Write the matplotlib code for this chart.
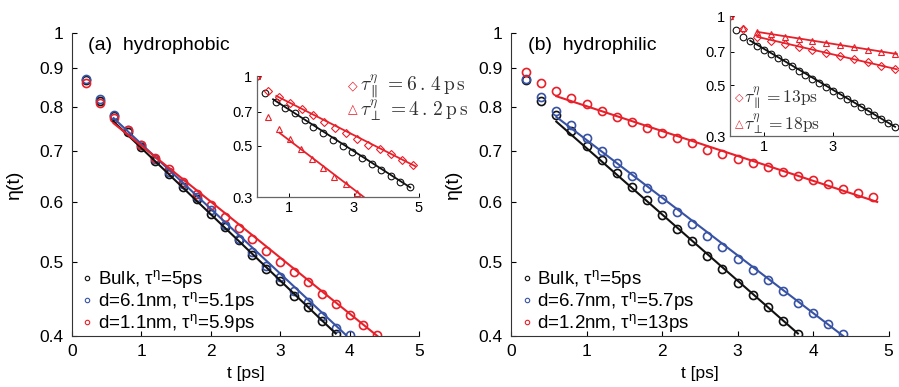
import matplotlib
matplotlib.use('Agg')
import matplotlib.pyplot as plt
from matplotlib.lines import Line2D
from matplotlib.ticker import NullLocator

plt.rcParams['font.family'] = ['Liberation Sans', 'DejaVu Sans']
plt.rcParams['mathtext.fontset'] = 'custom'
plt.rcParams['mathtext.rm'] = 'Liberation Sans'
plt.rcParams['mathtext.it'] = 'Liberation Sans:italic'

RED = '#e8202a'
BLUE = '#3852a4'
BLACK = '#111111'

# ---- panel (a): hydrophobic, main curves (t every 0.2 ps) ----
t_a = [0.2, 0.4, 0.6, 0.8, 1.0, 1.2, 1.4, 1.6, 1.8, 2.0, 2.2, 2.4, 2.6, 2.8, 3.0,
       3.2, 3.4, 3.6, 3.8, 4.0, 4.2, 4.4]
bulk_a = [0.868, 0.815, 0.777, 0.742, 0.708, 0.679, 0.652, 0.628, 0.605, 0.579, 0.556,
          0.534, 0.511, 0.490, 0.473, 0.452, 0.437, 0.419, 0.402]
d61_a = [0.870, 0.818, 0.780, 0.745, 0.712, 0.684, 0.656, 0.633, 0.609, 0.585, 0.559,
         0.537, 0.515, 0.495, 0.478, 0.459, 0.443, 0.425, 0.410, 0.401]
d11_a = [0.860, 0.810, 0.774, 0.745, 0.713, 0.686, 0.662, 0.637, 0.615, 0.595, 0.573,
         0.554, 0.536, 0.518, 0.500, 0.485, 0.471, 0.454, 0.440, 0.426, 0.413, 0.401]
# exponential fits (start/end of each line)
fit_bulk_a = ([0.6, 3.8], [0.765, 0.403])
fit_d61_a = ([0.6, 3.95], [0.773, 0.401])
fit_d11_a = ([0.6, 4.4], [0.761, 0.400])

# ---- panel (b): hydrophilic ----
t_b = [0.2, 0.4, 0.6, 0.8, 1.0, 1.2, 1.4, 1.6, 1.8, 2.0, 2.2, 2.4, 2.6, 2.8, 3.0,
       3.2, 3.4, 3.6, 3.8, 4.0, 4.2, 4.4, 4.6, 4.8]
bulk_b = [0.867, 0.814, 0.780, 0.743, 0.711, 0.682, 0.654, 0.628, 0.604, 0.576, 0.553,
          0.533, 0.510, 0.490, 0.470, 0.453, 0.437, 0.418, 0.403, 0.387, 0.372, 0.357,
          0.343, 0.330]
d67_b = [0.870, 0.824, 0.790, 0.757, 0.727, 0.699, 0.674, 0.649, 0.626, 0.606, 0.582,
         0.562, 0.542, 0.523, 0.505, 0.489, 0.474, 0.458, 0.442, 0.429, 0.415, 0.402]
d12_b = [0.889, 0.860, 0.839, 0.822, 0.807, 0.790, 0.776, 0.763, 0.751, 0.739, 0.727,
         0.716, 0.703, 0.693, 0.684, 0.675, 0.667, 0.657, 0.649, 0.641, 0.633, 0.624,
         0.616, 0.609]
fit_bulk_b = ([0.6, 3.8], [0.765, 0.403])
fit_d67_b = ([0.6, 4.4], [0.776, 0.400])
fit_d12_b = ([0.6, 4.85], [0.826, 0.600])

# ---- inset (a): parallel / perpendicular components ----
ia_bulk_t = [0, 0.26, 0.59, 0.89, 1.17, 1.48, 1.75, 2.06, 2.36, 2.67, 2.95, 3.25, 3.54,
             3.84, 4.15, 4.42, 4.73]
ia_bulk = [1.0, 0.842, 0.775, 0.730, 0.690, 0.646, 0.604, 0.565, 0.529, 0.498, 0.471,
           0.441, 0.415, 0.393, 0.370, 0.350, 0.332]
ia_par_t = [0, 0.34, 0.70, 1.04, 1.40, 1.73, 2.07, 2.41, 2.75, 3.10, 3.44, 3.79, 4.14,
            4.49, 4.83]
ia_par = [1.0, 0.861, 0.809, 0.762, 0.718, 0.678, 0.635, 0.598, 0.565, 0.534, 0.503,
          0.482, 0.459, 0.434, 0.411]
ia_perp_t = [0, 0.34, 0.70, 1.04, 1.37, 1.71, 2.04, 2.39, 2.75, 3.10]
ia_perp = [1.0, 0.667, 0.588, 0.532, 0.482, 0.437, 0.399, 0.367, 0.340, 0.311]
ia_fit_bulk = ([0.51, 4.73], [0.793, 0.330])
ia_fit_par = ([0.61, 4.88], [0.820, 0.408])
ia_fit_perp = ([0.70, 3.30], [0.569, 0.300])

# ---- inset (b) ----
ib_t = [0, 0.4, 0.8, 1.2, 1.6, 2.0, 2.4, 2.8, 3.2, 3.6, 4.0, 4.4, 4.8]
ib_par = [1.0, 0.875, 0.807, 0.782, 0.758, 0.734, 0.712, 0.690, 0.668, 0.648, 0.628,
          0.608, 0.589]
ib_perp = [1.0, 0.884, 0.849, 0.831, 0.813, 0.796, 0.779, 0.762, 0.746, 0.730, 0.714,
           0.699, 0.684]
ib_fit_bulk = ([0.6, 4.8], [0.781, 0.329])
ib_fit_par = ([0.8, 4.85], [0.812, 0.586])
ib_fit_perp = ([0.8, 4.85], [0.853, 0.683])

labels_a = ['Bulk, τ$^{\\mathrm{η}}$=5ps', 'd=6.1nm, τ$^{\\mathrm{η}}$=5.1ps',
            'd=1.1nm, τ$^{\\mathrm{η}}$=5.9ps']
labels_b = ['Bulk, τ$^{\\mathrm{η}}$=5ps', 'd=6.7nm, τ$^{\\mathrm{η}}$=5.7ps',
            'd=1.2nm, τ$^{\\mathrm{η}}$=13ps']

W, H = 899, 387
fig = plt.figure(figsize=(W / 100, H / 100), dpi=100)


def px_axes(x0, x1, y0, y1):
    # y0 = top pixel, y1 = bottom pixel
    return fig.add_axes([x0 / W, 1 - y1 / H, (x1 - x0) / W, (y1 - y0) / H])


def style_main(ax, title, labels):
    ax.set_yscale('log')
    ax.set_xlim(0, 5)
    ax.set_ylim(0.4, 1.0)
    ax.set_yticks([0.4, 0.5, 0.6, 0.7, 0.8, 0.9, 1.0],
                  ['0.4', '0.5', '0.6', '0.7', '0.8', '0.9', '1'])
    ax.yaxis.set_minor_locator(NullLocator())
    ax.set_xticks([0, 1, 2, 3, 4, 5])
    ax.tick_params(direction='in', length=3.5, labelsize=12.5, width=0.8, pad=6)
    for s in ['top', 'right']:
        ax.spines[s].set_visible(False)
    for s in ['left', 'bottom']:
        ax.spines[s].set_color('#333333')
        ax.spines[s].set_linewidth(0.8)
    ax.set_xlabel('t [ps]', fontsize=12.5, labelpad=5)
    ax.set_ylabel('η(t)', fontsize=14, labelpad=12)
    ax.text(0.046, 0.96, title, transform=ax.transAxes, fontsize=14, va='center')
    handles = [Line2D([], [], ls='none', marker='o', ms=3.2, mfc='none', mew=0.8, mec=c)
               for c in [BLACK, BLUE, RED]]
    ax.legend(handles, labels, loc='lower left', bbox_to_anchor=(0.025, 0.0),
              frameon=False, fontsize=13.5, handlelength=0.5, handletextpad=0.3,
              labelspacing=0.0, borderaxespad=0.0, borderpad=0.1)


def style_inset(ax, yt_labels):
    ax.set_yscale('log')
    ax.set_xlim(0, 5)
    ax.set_ylim(0.3, 1.0)
    ax.set_yticks([0.3, 0.5, 0.7, 1.0], yt_labels)
    ax.yaxis.set_minor_locator(NullLocator())
    ax.tick_params(direction='in', length=3, labelsize=10.5, width=0.7, pad=3)
    for s in ['top', 'right']:
        ax.spines[s].set_visible(False)
    for s in ['left', 'bottom']:
        ax.spines[s].set_color('#666666')
        ax.spines[s].set_linewidth(0.9)


mk = dict(ls='none', marker='o', ms=5.8, mfc='none', mew=1.2)

# panel (a)
ax1 = px_axes(72, 419, 33, 336)
ax1.plot(t_a[:len(bulk_a)], bulk_a, color=BLACK, **mk)
ax1.plot(t_a[:len(d61_a)], d61_a, color=BLUE, **mk)
ax1.plot(t_a[:len(d11_a)], d11_a, color=RED, **mk)
ax1.plot(*fit_bulk_a, color=BLACK, lw=1.5)
ax1.plot(*fit_d61_a, color=BLUE, lw=1.5)
ax1.plot(*fit_d11_a, color=RED, lw=1.5)
style_main(ax1, '(a)  hydrophobic', labels_a)

# panel (b)
ax2 = px_axes(511, 888.5, 33, 336)
ax2.plot(t_b[:len(bulk_b)], bulk_b, color=BLACK, **mk)
ax2.plot(t_b[:len(d67_b)], d67_b, color=BLUE, **mk)
ax2.plot(t_b[:len(d12_b)], d12_b, color=RED, **mk)
ax2.plot(*fit_bulk_b, color=BLACK, lw=1.5)
ax2.plot(*fit_d67_b, color=BLUE, lw=1.5)
ax2.plot(*fit_d12_b, color=RED, lw=1.5)
style_main(ax2, '(b)  hydrophilic', labels_b)

# inset (a)
ins1 = px_axes(256.5, 419, 76, 197)
ins1.plot(ia_bulk_t, ia_bulk, ls='none', marker='o', ms=4.8, mfc='none', mew=0.8, color=BLACK)
ins1.plot(ia_par_t, ia_par, ls='none', marker='D', ms=3.8, mfc='none', mew=0.8, color=RED)
ins1.plot(ia_perp_t, ia_perp, ls='none', marker='^', ms=5, mfc='none', mew=0.8, color=RED)
ins1.plot(*ia_fit_bulk, color=BLACK, lw=1.3)
ins1.plot(*ia_fit_par, color=RED, lw=1.3)
ins1.plot(*ia_fit_perp, color=RED, lw=1.3)
style_inset(ins1, ['0.3', '0.5', '0.7', '1'])
ins1.set_xticks([1, 3, 5])
ins1.set_facecolor('none')

# inset (b): its right end runs off the figure, so the "5" label is left blank
ins2 = px_axes(729.5, 902, 16, 136)
ins2.plot(t_b, bulk_b, ls='none', marker='o', ms=4.8, mfc='none', mew=0.8, color=BLACK)
ins2.plot(ib_t, ib_par, ls='none', marker='D', ms=3.8, mfc='none', mew=0.8, color=RED)
ins2.plot(ib_t, ib_perp, ls='none', marker='^', ms=5, mfc='none', mew=0.8, color=RED)
ins2.plot(*ib_fit_bulk, color=BLACK, lw=1.3)
ins2.plot(*ib_fit_par, color=RED, lw=1.3)
ins2.plot(*ib_fit_perp, color=RED, lw=1.3)
style_inset(ins2, ['0.3', '0.5', '0.7', '1'])
ins2.set_xticks([1, 3, 5], ['1', '3', ''])
ins2.set_facecolor('none')

# inset legends (serif math, as in the original)
fig.text(353 / W, 1 - 86 / H, '\u25c7', color=RED, fontsize=9, ha='center', va='center',
         family='DejaVu Sans')
fig.text(353 / W, 1 - 110 / H, '\u25b3', color=RED, fontsize=9, ha='center', va='center',
         family='DejaVu Sans')
fig.text(360 / W, 1 - 86 / H, r'$\tau_{\parallel}^{\eta}\,=6\,.\,4\,\mathrm{p\,s}$',
         fontsize=14, va='center', math_fontfamily='cm', color='#333333')
fig.text(360 / W, 1 - 110 / H, r'$\tau_{\perp}^{\eta}\,=4\,.\,2\,\mathrm{p\,s}$',
         fontsize=14, va='center', math_fontfamily='cm', color='#333333')
fig.text(739 / W, 1 - 98 / H, '\u25c7', color=RED, fontsize=8, ha='center', va='center',
         family='DejaVu Sans')
fig.text(739 / W, 1 - 124 / H, '\u25b3', color=RED, fontsize=8, ha='center', va='center',
         family='DejaVu Sans')
fig.text(744 / W, 1 - 98 / H, r'$\tau_{\parallel}^{\eta}=13\mathrm{ps}$', fontsize=12.5,
         va='center', math_fontfamily='cm', color='#333333')
fig.text(744 / W, 1 - 124 / H, r'$\tau_{\perp}^{\eta}=18\mathrm{ps}$', fontsize=12.5,
         va='center', math_fontfamily='cm', color='#333333')

fig.savefig('out.png', dpi=100)
